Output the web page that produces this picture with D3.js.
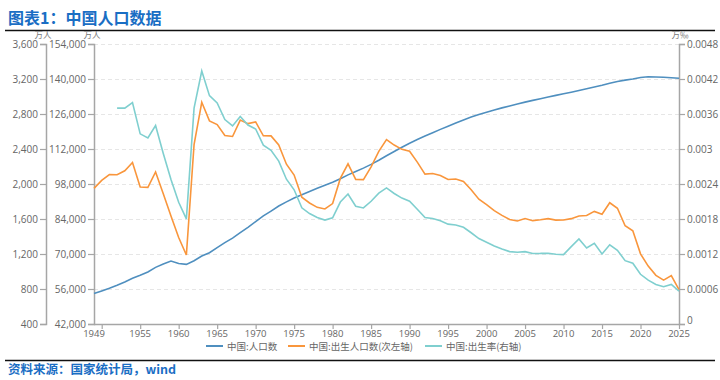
<!DOCTYPE html>
<html><head><meta charset="utf-8">
<script src="https://cdn.jsdelivr.net/npm/d3@7"></script>
<style>
html,body{margin:0;padding:0;background:#fff;}
svg{display:block;font-family:"Noto Sans","Noto Sans CJK SC",sans-serif;}
</style></head>
<body>
<svg id="chart" width="720" height="380"></svg>
<script>
const years = d3.range(1949, 2026);
// 中国:人口数 (万人)
const population = [54167,55196,56300,57482,58796,60266,61465,62828,64653,65994,
67207,66207,65859,67295,69172,70499,72538,74542,76368,78534,
80671,82992,85229,87177,89211,90859,92420,93717,94974,96259,
97542,98705,100072,101654,103008,104357,105851,107507,109300,111026,
112704,114333,115823,117171,118517,119850,121121,122389,123626,124761,
125786,126743,127627,128453,129227,129988,130756,131448,132129,132802,
133450,134091,134735,135404,136072,136782,137462,138271,139008,139538,
140005,140600,140900,140800,140700,140500,140300];
// 中国:出生人口数 (万人, 次左轴)
const births = [1950,2042,2107,2105,2151,2245,1965,1961,2138,1889,
1635,1389,1189,2451,2934,2721,2679,2554,2543,2731,
2690,2710,2551,2550,2447,2226,2102,1849,1783,1733,
1715,1776,2064,2230,2052,2050,2196,2374,2508,2445,
2396,2374,2250,2113,2120,2098,2052,2057,2028,1934,
1827,1765,1696,1641,1594,1578,1605,1581,1591,1604,
1587,1588,1604,1635,1640,1687,1655,1786,1723,1523,
1465,1202,1062,956,902,954,792];
// 中国:出生率 (右轴)
const birthRate = [null,null,null,0.003700,0.003700,0.003797,0.003260,0.003190,0.003403,0.002922,
0.002478,0.002086,0.001802,0.003701,0.004337,0.003914,0.003788,0.003505,0.003396,0.003559,
0.003411,0.003343,0.003065,0.002977,0.002793,0.002482,0.002301,0.001991,0.001893,0.001825,
0.001782,0.001821,0.002091,0.002228,0.002019,0.001990,0.002104,0.002243,0.002333,0.002237,
0.002158,0.002106,0.001968,0.001824,0.001809,0.001770,0.001712,0.001698,0.001657,0.001564,
0.001464,0.001403,0.001338,0.001286,0.001241,0.001229,0.001240,0.001209,0.001210,0.001214,
0.001195,0.001190,0.001327,0.001457,0.001303,0.001383,0.001199,0.001357,0.001264,0.001086,
0.001041,0.000852,0.000752,0.000677,0.000639,0.000677,0.000563];

const birthTicks = [400,800,1200,1600,2000,2400,2800,3200,3600];
const popTicks = [42000,56000,70000,84000,98000,112000,126000,140000,154000];
const rateTicks = [0,0.0006,0.0012,0.0018,0.0024,0.003,0.0036,0.0042,0.0048];
const rateLabels = ['0','0.0006','0.0012','0.0018','0.0024','0.003','0.0036','0.0042','0.0048'];
const xTicks = [1950,1955,1960,1965,1970,1975,1980,1985,1990,1995,2000,2005,2010,2015,2020,2025];
const xLabels = [1949,1955,1960,1965,1970,1975,1980,1985,1990,1995,2000,2005,2010,2015,2020,2025];

const C_BLUE = '#4f8fbf', C_ORANGE = '#f9963c', C_TEAL = '#7fcfcf';
const AXIS = '#a6a6a6', TXT = '#666';

const svg = d3.select('#chart');
const X0 = 94, X1 = 679, Y0 = 324, Y1 = 44, XO = 46;

const x = d3.scaleLinear().domain([1949, 2025]).range([X0, X1]);
const yB = d3.scaleLinear().domain([400, 3600]).range([Y0, Y1]);
const yP = d3.scaleLinear().domain([42000, 154000]).range([Y0, Y1]);
const yR = d3.scaleLinear().domain([0, 0.0048]).range([Y0, Y1]);

// title
svg.append('text').attr('x', 8).attr('y', 24).attr('fill', '#1a6ec4')
  .style('font-family', '"Noto Sans CJK SC",sans-serif').style('font-weight', 'bold').style('font-size', '16px')
  .text('图表1：中国人口数据');
svg.append('line').attr('x1', 5).attr('x2', 715).attr('y1', 30.5).attr('y2', 30.5).attr('stroke', '#111').attr('stroke-width', 1.5);
svg.append('line').attr('x1', 5).attr('x2', 715).attr('y1', 360.5).attr('y2', 360.5).attr('stroke', '#111').attr('stroke-width', 1.5);
svg.append('text').attr('x', 8).attr('y', 374).attr('fill', '#1a6ec4')
  .style('font-family', '"Noto Sans CJK SC",sans-serif').style('font-weight', 'bold').style('font-size', '12.5px')
  .text('资料来源：国家统计局，wind');

// grid
svg.append('g').selectAll('line').data(popTicks.slice(1)).join('line')
  .attr('x1', X0).attr('x2', X1).attr('y1', d => Math.round(yP(d)) + 0.5).attr('y2', d => Math.round(yP(d)) + 0.5)
  .attr('stroke', '#e6e6e6').attr('stroke-dasharray', '4,3');

// axes helpers
function styleAxis(g) {
  g.select('.domain').attr('stroke', AXIS).attr('stroke-width', 1.5);
  g.selectAll('.tick line').attr('stroke', AXIS).attr('stroke-width', 1.2);
  g.selectAll('.tick text').attr('fill', TXT).style('font-size', '10px')
    .style('font-family', '"Open Sans","Noto Sans",sans-serif');
}
const fmt = d3.format(',');
svg.append('g').attr('transform', `translate(${XO},0)`)
  .call(d3.axisLeft(yB).tickValues(birthTicks).tickFormat(fmt).tickSizeOuter(0).tickSize(6).tickPadding(2))
  .call(styleAxis);
svg.append('g').attr('transform', `translate(${X0},0)`)
  .call(d3.axisLeft(yP).tickValues(popTicks).tickFormat(fmt).tickSizeOuter(0).tickSize(6).tickPadding(2))
  .call(styleAxis);
const gr = svg.append('g').attr('transform', `translate(${X1},0)`)
  .call(d3.axisRight(yR).tickValues(rateTicks).tickFormat((d, i) => rateLabels[i]).tickSizeOuter(0).tickSize(6).tickPadding(2))
  .call(styleAxis);
gr.selectAll('.tick text').filter(d => d === 0).attr('dy', '-0.05em');
const gx = svg.append('g').attr('transform', `translate(0,${Y0})`)
  .call(d3.axisBottom(x).tickValues(xTicks).tickFormat('').tickSizeOuter(0).tickSize(5))
  .call(styleAxis);
gx.select('.domain').attr('d', `M${X0},0.5H${X1}`);
svg.append('g').selectAll('text').data(xLabels).join('text')
  .attr('x', d => x(d)).attr('y', Y0 + 12.5).attr('text-anchor', 'middle')
  .attr('fill', TXT).style('font-size', '9.5px').style('font-family', '"Open Sans","Noto Sans",sans-serif')
  .text(d => d);

// units
const unitStyle = s => s.attr('fill', '#777').style('font-size', '8.5px').style('font-family', '"Noto Sans CJK SC",sans-serif');
svg.append('text').attr('x', 43).attr('y', 37.5).attr('text-anchor', 'middle').call(unitStyle).text('万人');
svg.append('text').attr('x', 92).attr('y', 37.5).attr('text-anchor', 'middle').call(unitStyle).text('万人');
svg.append('text').attr('x', 680).attr('y', 37.5).attr('text-anchor', 'middle').call(unitStyle).text('万‰');

// lines
const lineGen = (yS, vals) => d3.line().defined(i => vals[i] != null).x(i => x(years[i])).y(i => yS(vals[i]));
const idx = d3.range(years.length);
svg.append('path').attr('d', lineGen(yP, population)(idx)).attr('fill', 'none').attr('stroke', C_BLUE).attr('stroke-width', 1.6);
svg.append('path').attr('d', lineGen(yB, births)(idx)).attr('fill', 'none').attr('stroke', C_ORANGE).attr('stroke-width', 1.6);
svg.append('path').attr('d', lineGen(yR, birthRate)(idx)).attr('fill', 'none').attr('stroke', C_TEAL).attr('stroke-width', 1.6);

// legend
const legend = [
  {name: '中国:人口数', color: C_BLUE, x: 206},
  {name: '中国:出生人口数(次左轴)', color: C_ORANGE, x: 288},
  {name: '中国:出生率(右轴)', color: C_TEAL, x: 425}
];
const lg = svg.append('g').selectAll('g').data(legend).join('g').attr('transform', d => `translate(${d.x},346)`);
lg.append('line').attr('x1', 0).attr('x2', 17).attr('stroke', d => d.color).attr('stroke-width', 2);
lg.append('text').attr('x', 21).attr('y', 3.5).attr('fill', TXT).style('font-size', '9.5px')
  .style('font-family', '"Noto Sans CJK SC",sans-serif').text(d => d.name);
</script>
</body></html>
